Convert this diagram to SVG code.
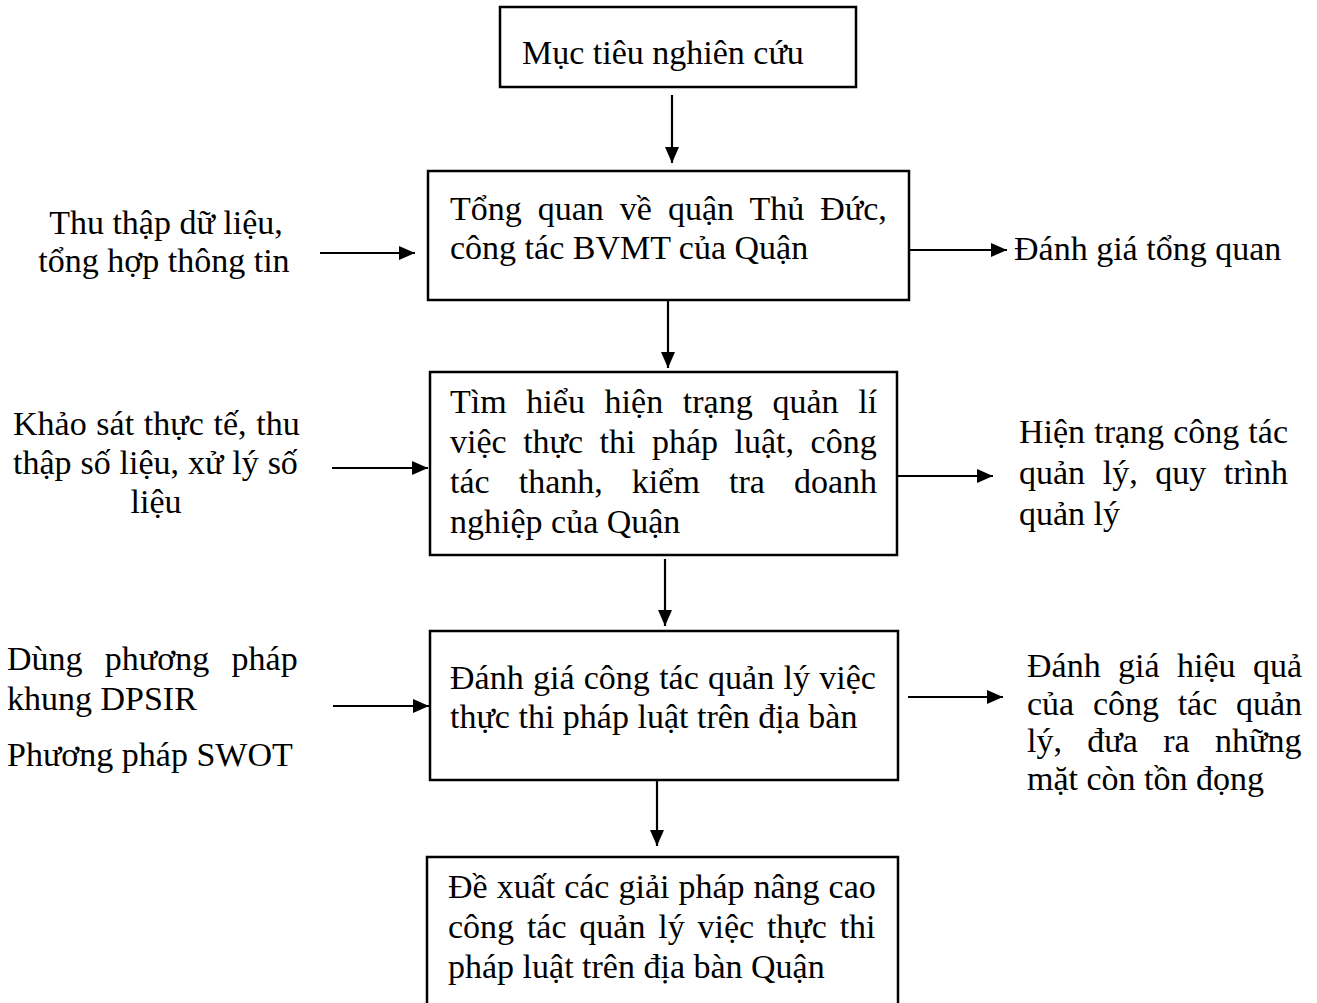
<svg xmlns="http://www.w3.org/2000/svg" width="1317" height="1003" viewBox="0 0 1317 1003">
<style>
.box{fill:#fff;stroke:#000;stroke-width:2.5}
.t{font-family:"Liberation Serif","Times New Roman",serif;font-size:34px;fill:#000}
.c{text-anchor:middle}
.ln{stroke:#000;stroke-width:2.2;fill:none;marker-end:url(#ah)}
</style>
<defs>
<marker id="ah" viewBox="0 0 16 14" refX="16" refY="7" markerWidth="16" markerHeight="14" markerUnits="userSpaceOnUse" orient="auto">
<path d="M0,0 L16,7 L0,14 z" fill="#000"/>
</marker>
</defs>
<rect width="1317" height="1003" fill="#fff"/>
<g id="connectors">
<line class="ln" x1="672" y1="95" x2="672" y2="163"/>
<line class="ln" x1="320" y1="253" x2="415" y2="253"/>
<line class="ln" x1="910" y1="250" x2="1007" y2="250"/>
<line class="ln" x1="668" y1="300" x2="668" y2="368"/>
<line class="ln" x1="332" y1="468" x2="428" y2="468"/>
<line class="ln" x1="897" y1="476" x2="993" y2="476"/>
<line class="ln" x1="665" y1="559" x2="665" y2="626"/>
<line class="ln" x1="333" y1="706" x2="429" y2="706"/>
<line class="ln" x1="908" y1="697" x2="1003" y2="697"/>
<line class="ln" x1="657" y1="780" x2="657" y2="846"/>
</g>
<g id="n1">
<rect class="box" x="500" y="7" width="356" height="80"/>
<text class="t" x="522" y="64">Mục tiêu nghiên cứu</text>
</g>
<g id="n2">
<rect class="box" x="428" y="171" width="481" height="129"/>
<text class="t" x="450" y="220" word-spacing="7.5">Tổng quan về quận Thủ Đức,</text>
<text class="t" x="450" y="259">công tác BVMT của Quận</text>
</g>
<g id="n3">
<rect class="box" x="430" y="372" width="467" height="183"/>
<text class="t" x="450" y="413" word-spacing="11.2">Tìm hiểu hiện trạng quản lí</text>
<text class="t" x="450" y="453" word-spacing="8">việc thực thi pháp luật, công</text>
<text class="t" x="450" y="493" word-spacing="20.6">tác thanh, kiểm tra doanh</text>
<text class="t" x="450" y="533">nghiệp của Quận</text>
</g>
<g id="n4">
<rect class="box" x="430" y="631" width="468" height="149"/>
<text class="t" x="450" y="689" word-spacing="0.8">Đánh giá công tác quản lý việc</text>
<text class="t" x="450" y="728">thực thi pháp luật trên địa bàn</text>
</g>
<g id="n5">
<rect class="box" x="427" y="857" width="471" height="160"/>
<text class="t" x="448" y="898" word-spacing="0.5">Đề xuất các giải pháp nâng cao</text>
<text class="t" x="448" y="938" word-spacing="4.3">công tác quản lý việc thực thi</text>
<text class="t" x="448" y="978">pháp luật trên địa bàn Quận</text>
</g>
<g id="in1">
<text class="t c" x="166" y="234">Thu thập dữ liệu,</text>
<text class="t c" x="164" y="272">tổng hợp thông tin</text>
</g>
<g id="in2">
<text class="t" x="13" y="435" word-spacing="1.2">Khảo sát thực tế, thu</text>
<text class="t" x="13" y="474" word-spacing="0.4">thập số liệu, xử lý số</text>
<text class="t c" x="156" y="513">liệu</text>
</g>
<g id="in3">
<text class="t" x="7" y="670" word-spacing="13.8">Dùng phương pháp</text>
<text class="t" x="7" y="710">khung DPSIR</text>
<text class="t" x="7" y="766">Phương pháp SWOT</text>
</g>
<g id="out1">
<text class="t" x="1014" y="260">Đánh giá tổng quan</text>
</g>
<g id="out2">
<text class="t" x="1019" y="443" word-spacing="0.6">Hiện trạng công tác</text>
<text class="t" x="1019" y="484" word-spacing="9.1">quản lý, quy trình</text>
<text class="t" x="1019" y="525">quản lý</text>
</g>
<g id="out3">
<text class="t" x="1027" y="677" word-spacing="8.9">Đánh giá hiệu quả</text>
<text class="t" x="1027" y="715" word-spacing="10.2">của công tác quản</text>
<text class="t" x="1027" y="752" word-spacing="16.9">lý, đưa ra những</text>
<text class="t" x="1027" y="790">mặt còn tồn đọng</text>
</g>
</svg>
